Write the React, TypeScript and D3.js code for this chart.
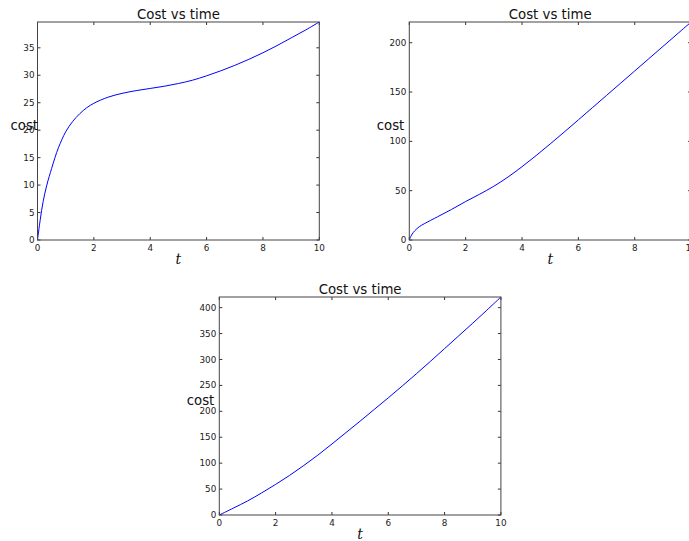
import React from "react";
import * as d3 from "d3";

// ---- data ----
const t1 = [0, 0.1, 0.2, 0.33, 0.5, 0.62, 0.75, 1, 1.25, 1.5, 1.75, 2, 2.5, 3, 3.5, 4, 4.5, 5, 5.5, 6, 6.5, 7, 7.5, 8, 8.5, 9, 9.5, 10];
const cost1 = [0, 3.8, 7.0, 10, 13, 15, 16.9, 19.7, 21.6, 23.0, 24.1, 24.9, 26.0, 26.7, 27.2, 27.6, 28.0, 28.5, 29.1, 29.9, 30.8, 31.8, 32.9, 34.1, 35.4, 36.8, 38.2, 39.7];

const t2 = [0, 0.05, 0.1, 0.2, 0.35, 0.55, 1, 1.5, 2, 2.5, 3, 3.5, 4, 4.5, 5, 5.5, 6, 6.5, 7, 7.5, 8, 8.5, 9, 9.5, 10];
const cost2 = [0, 3.5, 6, 9.5, 13.4, 16.8, 23.5, 31, 39, 46.5, 54.5, 63.8, 74.3, 85.6, 97.4, 109.5, 121.8, 134.2, 146.6, 159, 171.4, 183.8, 196.2, 208.6, 221];

const t3 = [0, 0.5, 1, 1.5, 2, 2.5, 3, 3.5, 4, 4.5, 5, 5.5, 6, 6.5, 7, 7.5, 8, 8.5, 9, 9.5, 10];
const cost3 = [0, 13.3, 27, 42.5, 59, 76.5, 95.5, 115.5, 137, 159, 181, 203.5, 226, 249, 272.5, 296.5, 321, 345.5, 370, 395, 420.5];

const xTicks = [0, 2, 4, 6, 8, 10];
const yTicks1 = [0, 5, 10, 15, 20, 25, 30, 35];
const yTicks2 = [0, 50, 100, 150, 200];
const yTicks3 = [0, 50, 100, 150, 200, 250, 300, 350, 400];

const titleText = "Cost vs time";
const yLabelText = "cost";
const xLabelText = "t";

// ---- layout ----
const W = 689;
const H = 541;
const panels = [
  { t: t1, c: cost1, yTicks: yTicks1, left: 37.5, top: 22, width: 281.8, height: 218 },
  { t: t2, c: cost2, yTicks: yTicks2, left: 409.3, top: 22, width: 281.8, height: 218 },
  { t: t3, c: cost3, yTicks: yTicks3, left: 219.3, top: 297, width: 281.6, height: 218 },
];

const FONT = "'DejaVu Sans', sans-serif";
const TICK_FS = 8.8;
const TICK_LEN = 3;

function Panel({ p }: { p: (typeof panels)[number] }) {
  const x = d3.scaleLinear().domain([0, 10]).range([p.left, p.left + p.width]);
  const yMax = d3.max(p.c) as number;
  const y = d3.scaleLinear().domain([0, yMax]).range([p.top + p.height, p.top]);
  const line = d3
    .line<number>()
    .x((_, i) => x(p.t[i]))
    .y((d) => y(d))
    .curve(d3.curveCatmullRom.alpha(0.5));
  const bottom = p.top + p.height;
  const right = p.left + p.width;
  const maxLabelChars = d3.max(p.yTicks, (v) => String(v).length) as number;
  const labelCenterX = p.left - 3 - maxLabelChars * 0.636 * TICK_FS + 1;
  const clipId = `clip-${Math.round(p.left)}-${Math.round(p.top)}`;
  return (
    <g>
      <defs>
        <clipPath id={clipId}>
          <rect x={p.left} y={p.top - 1} width={p.width} height={p.height + 2} />
        </clipPath>
      </defs>
      <path
        d={line(p.c) || ""}
        fill="none"
        stroke="#0000ff"
        strokeWidth={1}
        clipPath={`url(#${clipId})`}
      />
      {/* x ticks (bottom & top, inward) */}
      {xTicks.map((v) => (
        <g key={`x${v}`}>
          <line x1={x(v)} x2={x(v)} y1={bottom} y2={bottom - TICK_LEN} stroke="#000" strokeWidth={0.8} />
          <line x1={x(v)} x2={x(v)} y1={p.top} y2={p.top + TICK_LEN} stroke="#000" strokeWidth={0.8} />
          <text
            x={x(v)}
            y={bottom + 10.5}
            textAnchor="middle"
            fontFamily={FONT}
            fontSize={TICK_FS}
            fill="#222"
          >
            {v}
          </text>
        </g>
      ))}
      {/* y ticks (left & right, inward) */}
      {p.yTicks.map((v) => (
        <g key={`y${v}`}>
          <line x1={p.left} x2={p.left + TICK_LEN} y1={y(v)} y2={y(v)} stroke="#000" strokeWidth={0.8} />
          <line x1={right} x2={right - TICK_LEN} y1={y(v)} y2={y(v)} stroke="#000" strokeWidth={0.8} />
          <text
            x={p.left - 3}
            y={y(v)}
            dy="0.35em"
            textAnchor="end"
            fontFamily={FONT}
            fontSize={TICK_FS}
            fill="#222"
          >
            {v}
          </text>
        </g>
      ))}
      {/* frame */}
      <rect x={p.left} y={p.top} width={p.width} height={p.height} fill="none" stroke="#444" strokeWidth={1} />
      {/* title */}
      <text
        x={p.left + p.width / 2}
        y={p.top - 3.5}
        textAnchor="middle"
        fontFamily={FONT}
        fontSize={13.3}
        fill="#111"
      >
        {titleText}
      </text>
      {/* y label */}
      <text
        x={labelCenterX}
        y={p.top + p.height / 2 - 1.5}
        textAnchor="middle"
        fontFamily={FONT}
        fontSize={13.3}
        fill="#111"
      >
        {yLabelText}
      </text>
      {/* x label */}
      <text
        x={p.left + p.width / 2}
        y={bottom + 24}
        textAnchor="middle"
        fontFamily="'DejaVu Serif', serif"
        fontStyle="italic"
        fontSize={14}
        fill="#111"
      >
        {xLabelText}
      </text>
    </g>
  );
}

export default function App() {
  return (
    <svg
      width={W}
      height={H}
      style={{ position: "absolute", left: 0, top: 0, overflow: "hidden", background: "#fff" }}
    >
      <rect x={0} y={0} width={W} height={H} fill="#fff" />
      {panels.map((p, i) => (
        <Panel key={i} p={p} />
      ))}
    </svg>
  );
}
